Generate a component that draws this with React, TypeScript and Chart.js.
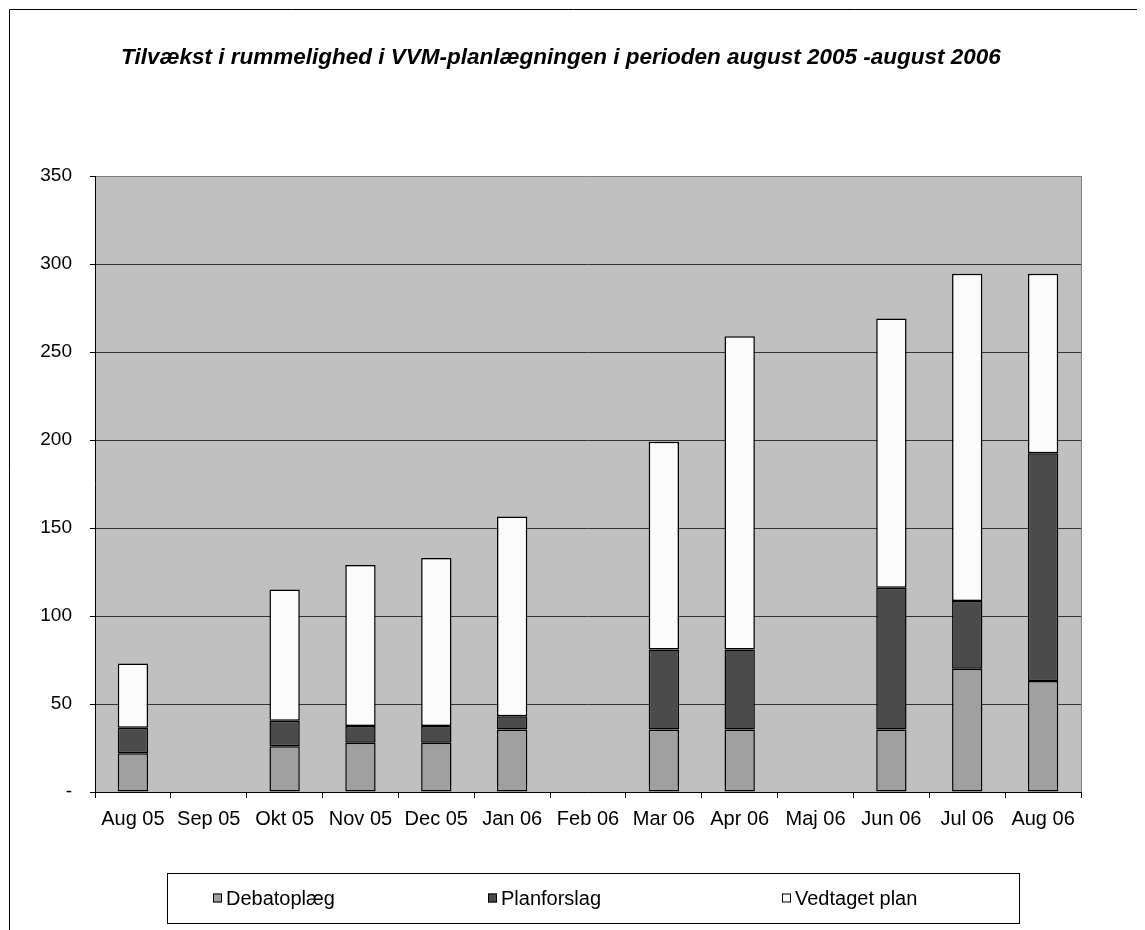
import React, { useEffect, useRef } from "react";
import { Chart, registerables } from "chart.js";

Chart.register(...registerables);

const categories = ["Aug 05", "Sep 05", "Okt 05", "Nov 05", "Dec 05", "Jan 06", "Feb 06", "Mar 06", "Apr 06", "Maj 06", "Jun 06", "Jul 06", "Aug 06"];
const debatoplaeg = [22, null, 26, 28, 28, 35.5, null, 35.5, 35.5, null, 35.5, 70, 63];
const planforslag = [14.5, null, 14.5, 9.5, 9.5, 7.5, null, 45.5, 45.5, null, 80.5, 38.5, 129.5];
const vedtagetPlan = [36.5, null, 74.5, 91.5, 95.5, 113.5, null, 118, 178, null, 153, 186, 102];
const seriesNames = ["Debatoplæg", "Planforslag", "Vedtaget plan"];
const yTicks = [0, 50, 100, 150, 200, 250, 300, 350];
const titleText = "Tilvækst i rummelighed i VVM-planlægningen i perioden august 2005 -august 2006";

const FONT = '"Liberation Sans", Arial, sans-serif';

const decorPlugin = {
  id: "decor",
  beforeDraw(chart: any) {
    const { ctx, chartArea } = chart;
    ctx.save();
    ctx.fillStyle = "#ffffff";
    ctx.fillRect(0, 0, chart.width, chart.height);
    // outer frame (top and left visible)
    ctx.strokeStyle = "#000";
    ctx.lineWidth = 1;
    ctx.beginPath();
    ctx.moveTo(1.5, chart.height + 5);
    ctx.lineTo(1.5, 1.5);
    ctx.lineTo(chart.width + 5, 1.5);
    ctx.stroke();
    // plot background
    ctx.fillStyle = "#C0C0C0";
    ctx.fillRect(chartArea.left, chartArea.top, chartArea.right - chartArea.left, chartArea.bottom - chartArea.top);
    ctx.restore();
  },
  afterDraw(chart: any) {
    const { ctx, chartArea } = chart;
    ctx.save();
    // right plot border
    ctx.strokeStyle = "#808080";
    ctx.lineWidth = 1;
    ctx.beginPath();
    ctx.moveTo(Math.round(chartArea.right) + 0.5, chartArea.top);
    ctx.lineTo(Math.round(chartArea.right) + 0.5, chartArea.bottom);
    ctx.stroke();
    // title
    ctx.fillStyle = "#000";
    ctx.font = `italic bold 22.5px ${FONT}`;
    ctx.textAlign = "center";
    ctx.textBaseline = "alphabetic";
    ctx.fillText(titleText, 553, 56);
    // legend
    const lx = 159, ly = 865, lw = 852, lh = 50;
    ctx.strokeStyle = "#000";
    ctx.strokeRect(lx + 0.5, ly + 0.5, lw, lh);
    const itemX = [205, 480, 774];
    ctx.font = `20px ${FONT}`;
    ctx.textAlign = "left";
    ctx.textBaseline = "middle";
    chart.data.datasets.forEach((ds: any, i: number) => {
      const x = itemX[i];
      const cy = ly + lh / 2;
      ctx.fillStyle = ds.backgroundColor;
      ctx.fillRect(x, cy - 4.5, 9, 9);
      ctx.strokeStyle = "#000";
      ctx.strokeRect(x + 0.5, cy - 4.5 + 0.5, 8, 8);
      ctx.fillStyle = "#000";
      ctx.fillText(ds.label, x + 13, cy + 1);
    });
    ctx.restore();
  },
};

export default function App() {
  const ref = useRef<HTMLCanvasElement>(null);
  useEffect(() => {
    if (!ref.current) return;
    const chart = new Chart(ref.current, {
      type: "bar",
      data: {
        labels: categories,
        datasets: [
          { label: seriesNames[0], data: debatoplaeg, backgroundColor: "#A0A0A0" },
          { label: seriesNames[1], data: planforslag, backgroundColor: "#4B4B4B" },
          { label: seriesNames[2], data: vedtagetPlan, backgroundColor: "#FBFBFB" },
        ].map((d) => ({
          ...d,
          borderColor: "#000",
          borderWidth: 1.5,
          borderSkipped: false,
          categoryPercentage: 1,
          barPercentage: 0.4,
        })) as any,
      },
      options: {
        responsive: false,
        animation: false,
        layout: { padding: { left: 0, top: 168, right: 56, bottom: 98 } },
        plugins: {
          legend: { display: false },
          title: { display: false },
          tooltip: { enabled: false },
        },
        scales: {
          x: {
            stacked: true,
            offset: true,
            grid: {
              offset: true,
              drawOnChartArea: false,
              drawTicks: true,
              tickLength: 6,
              tickColor: "#000",
            },
            border: { display: true, color: "#000", width: 1 },
            ticks: {
              color: "#000",
              font: { family: FONT, size: 20 },
              padding: 9,
              maxRotation: 0,
              autoSkip: false,
            },
            afterFit(scale: any) {
              scale.height = 40;
            },
          },
          y: {
            stacked: true,
            min: 0,
            max: 350,
            afterBuildTicks(scale: any) {
              scale.ticks = yTicks.map((v) => ({ value: v }));
            },
            grid: {
              color: (c: any) => (c.tick && c.tick.value === 350 ? "#808080" : "#333333"),
              tickColor: "#000",
              tickLength: 5,
              lineWidth: 1,
            },
            border: { display: true, color: "#000", width: 1 },
            ticks: {
              color: "#000",
              font: { family: FONT, size: 19 },
              padding: 18,
              callback: (v: any) => (Number(v) === 0 ? "-" : String(v)),
            },
            afterFit(scale: any) {
              scale.width = 87;
            },
          },
        },
      },
      plugins: [decorPlugin],
    });
    return () => chart.destroy();
  }, []);
  return <canvas ref={ref} width={1129} height={922} style={{ display: "block" }} />;
}
